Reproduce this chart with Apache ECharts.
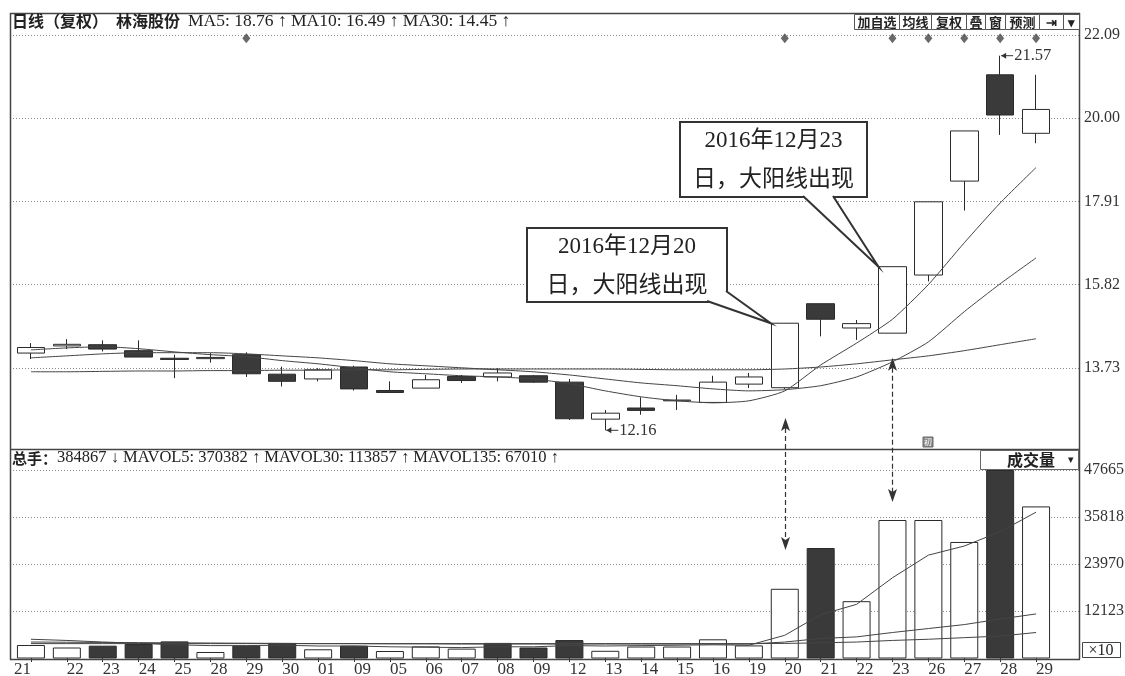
<!DOCTYPE html>
<html><head><meta charset="utf-8">
<script src="https://cdn.jsdelivr.net/npm/echarts@6/dist/echarts.min.js"></script>
<style>html,body{margin:0;padding:0;background:#fff}#c{width:1125px;height:676px}</style>
</head><body><div id="c"></div>
<script>
// ---------- data ----------
const dates = ['21','22','23','24','25','28','29','30','01','09','05','06','07','08','09','12','13','14','15','16','19','20','21','22','23','26','27','28','29'];
const opens  = [14.10,14.28,14.31,14.16,13.97,13.96,14.06,13.57,13.45,13.75,13.16,13.22,13.51,13.50,13.53,13.37,12.44,12.72,12.90,12.86,13.32,13.23,15.34,14.73,14.60,16.06,18.42,21.09,19.62];
const closes = [14.24,14.32,14.20,14.00,13.94,13.99,13.58,13.39,13.68,13.20,13.11,13.43,13.41,13.60,13.37,12.45,12.59,12.66,12.92,13.37,13.50,14.85,14.95,14.84,16.27,17.90,19.68,20.08,20.22];
const lows   = [13.95,14.20,14.14,14.00,13.47,13.86,13.50,13.26,13.39,13.16,13.11,13.22,13.35,13.39,13.35,12.42,12.16,12.55,12.67,12.86,13.22,13.20,14.52,14.43,14.60,15.90,17.68,19.58,19.37];
const highs  = [14.35,14.45,14.42,14.42,14.06,14.10,14.12,13.76,13.72,13.78,13.39,13.55,13.55,13.72,13.55,13.45,12.67,12.99,13.05,13.53,13.60,14.85,15.34,14.93,16.27,17.90,19.68,21.57,21.09];
const ma5  = [14.18,14.23,14.26,14.21,14.13,14.06,14.01,13.91,13.83,13.73,13.63,13.58,13.53,13.50,13.45,13.33,13.15,13.00,12.90,12.85,12.90,13.15,13.80,14.35,14.95,15.82,16.87,17.87,18.76];
const ma10 = [13.98,14.03,14.08,14.11,14.11,14.11,14.08,14.03,13.98,13.91,13.83,13.78,13.73,13.68,13.63,13.55,13.45,13.35,13.28,13.20,13.15,13.18,13.28,13.50,13.88,14.38,15.14,15.84,16.49];
const ma30 = [13.63,13.63,13.64,13.65,13.65,13.66,13.66,13.67,13.67,13.68,13.68,13.69,13.70,13.70,13.70,13.70,13.70,13.69,13.68,13.68,13.68,13.70,13.75,13.83,13.93,14.03,14.16,14.31,14.46];
const volumes = [3550,2920,3380,3800,4460,1790,3380,4080,2470,3380,2040,3200,2640,4080,2920,4800,2090,3170,3170,4990,3450,17720,28000,14600,35060,35060,29520,47665,38487];
const volUp   = [1,1,0,0,0,1,0,0,1,0,1,1,1,0,0,0,1,1,1,1,1,1,0,1,1,1,1,0,1];
const mavol5   = [5000,4700,4300,4000,3600,3400,3400,3500,3300,3300,3100,3000,2900,3100,3100,3400,3300,3400,3500,3600,3500,6000,11200,13800,20500,26200,28500,32100,37038];
const mavol30  = [4300,4250,4200,4150,4100,4050,4000,3950,3900,3900,3850,3850,3800,3800,3800,3800,3800,3800,3800,3800,3800,4300,5200,5600,6700,7700,8700,10100,11386];
const mavol135 = [3900,3900,3900,3900,3900,3900,3900,3900,3900,3900,3900,3900,3900,3900,3900,3900,3900,3900,3900,3900,3900,3950,4100,4300,4700,5000,5400,5800,6701];
const markerIdx = [6,21,24,25,26,27,28];
const priceTicks = ['13.73','15.82','17.91','20.00','22.09'];
const volTicks = ['12123','23970','35818','47665'];

// ---------- axis ranges from tick labels ----------
const pInt = +priceTicks[1] - +priceTicks[0];
const pMax = +priceTicks[priceTicks.length-1];
const pMin = +priceTicks[0] - pInt;
const vInt = (+volTicks[volTicks.length-1] - +volTicks[0]) / (volTicks.length-1);
const vMax = +volTicks[volTicks.length-1];
const vMin = +volTicks[0] - vInt;

const SERIF = "'Liberation Serif','Noto Sans CJK SC',serif";
const CJK = "'Noto Sans CJK SC','Liberation Serif',sans-serif";
const INK = '#2a2a2a';
const DARK = '#3a3a3a';

const nearest = (v, arr) => arr.reduce((a,b)=>Math.abs(+b - v) < Math.abs(+a - v) ? b : a);

const splitDot = {show:true, showMinLine:false, lineStyle:{type:[1,2], color:'#8a8a8a', width:1}};
const yLabel = (arr) => ({margin:5, fontFamily:SERIF, fontSize:16, color:'#333', showMinLabel:false,
  formatter: v => nearest(v, arr)});

const option = {
  animation:false,
  backgroundColor:'#fff',
  grid:[
    {left:13, top:35, width:1066, height:416, outerBoundsMode:'none'},
    {left:13, top:35, width:1041, height:416, outerBoundsMode:'none'},
    {left:13, top:470, width:1066, height:188, outerBoundsMode:'none'},
    {left:13, top:470, width:1041, height:188, outerBoundsMode:'none'}
  ],
  xAxis:[
    {gridIndex:0, type:'value', min:0, max:1, show:false},
    {gridIndex:1, type:'category', data:dates, boundaryGap:true, show:false},
    {gridIndex:2, type:'value', min:0, max:1, show:false},
    {gridIndex:3, type:'category', data:dates, boundaryGap:true,
      axisLine:{show:false},
      axisTick:{show:true, alignWithLabel:true, length:4, lineStyle:{color:'#333'}},
      axisLabel:{interval:0, align:'left', alignMinLabel:'right', margin:3, fontFamily:SERIF, fontSize:17, color:'#333'}}
  ],
  yAxis:[
    {gridIndex:0, type:'value', position:'right', min:pMin, max:pMax, interval:pInt,
      axisLine:{show:false}, axisTick:{show:false}, axisLabel:yLabel(priceTicks), splitLine:splitDot},
    {gridIndex:1, type:'value', min:pMin, max:pMax, show:false},
    {gridIndex:2, type:'value', position:'right', min:vMin, max:vMax, interval:vInt,
      axisLine:{show:false}, axisTick:{show:false}, axisLabel:yLabel(volTicks), splitLine:splitDot},
    {gridIndex:3, type:'value', min:vMin, max:vMax, show:false}
  ],
  series:[
    {type:'candlestick', xAxisIndex:1, yAxisIndex:1, barWidth:28,
      data: dates.map((d,i)=>[opens[i], closes[i], lows[i], highs[i]]),
      itemStyle:{color:'#fff', color0:DARK, borderColor:INK, borderColor0:INK, borderWidth:1}},
    {type:'line', xAxisIndex:1, yAxisIndex:1, data:ma5, showSymbol:false, smooth:0.2, z:5, lineStyle:{color:'#444', width:1}},
    {type:'line', xAxisIndex:1, yAxisIndex:1, data:ma10, showSymbol:false, smooth:0.2, z:5, lineStyle:{color:'#444', width:1}},
    {type:'line', xAxisIndex:1, yAxisIndex:1, data:ma30, showSymbol:false, smooth:0.2, z:5, lineStyle:{color:'#444', width:1}},
    {type:'scatter', xAxisIndex:1, yAxisIndex:1, symbol:'diamond', symbolSize:[8,10],
      data: markerIdx.map(i=>[i, 22.01]), itemStyle:{color:'#444'}},
    {type:'bar', xAxisIndex:3, yAxisIndex:3, barWidth:28,
      data: volumes.map((v,i)=>({value:v, itemStyle: volUp[i] ? {color:'#fff', borderColor:INK, borderWidth:1} : {color:DARK, borderColor:INK, borderWidth:1}}))},
    {type:'line', xAxisIndex:3, yAxisIndex:3, data:mavol5, showSymbol:false, z:5, lineStyle:{color:'#444', width:1}},
    {type:'line', xAxisIndex:3, yAxisIndex:3, data:mavol30, showSymbol:false, z:5, lineStyle:{color:'#444', width:1}},
    {type:'line', xAxisIndex:3, yAxisIndex:3, data:mavol135, showSymbol:false, z:5, lineStyle:{color:'#444', width:1}}
  ]
};

const chart = echarts.init(document.getElementById('c'), null, {renderer:'canvas'});
chart.setOption(option);

const P = (i, p) => chart.convertToPixel({gridIndex:1}, [i, p]);
const V = (i, v) => chart.convertToPixel({gridIndex:3}, [i, v]);

const g = [];
const Z = 100;
function ln(x1,y1,x2,y2,st){ g.push({type:'line', z:Z, silent:true, shape:{x1,y1,x2,y2}, style:Object.assign({stroke:'#444', lineWidth:1.5}, st||{})}); }
function txt(x,y,text,st){ g.push({type:'text', z:Z+2, silent:true, style:Object.assign({x, y, text, fill:'#222', verticalAlign:'middle', align:'left', fontFamily:SERIF, fontSize:16}, st||{})}); }
function rect(x,y,w,h,st){ g.push({type:'rect', z:Z+1, silent:true, shape:{x,y,width:w,height:h}, style:Object.assign({fill:'#fff', stroke:'#444', lineWidth:1}, st||{})}); }

// frame
ln(10.5,13,10.5,659.5);
ln(10,13.5,1080,13.5);
ln(1079.5,13,1079.5,659.5);
ln(10,449.5,1080,449.5);
ln(10,659.5,1080,659.5);

// header
g.push({type:'text', z:Z+2, silent:true, style:{x:12, y:21, verticalAlign:'middle',
  text:'{a|日线（复权）}{b|林海股份}{c|MA5: 18.76 ↑ MA10: 16.49 ↑ MA30: 14.45 ↑}',
  rich:{
    a:{fontFamily:CJK, fontSize:16, fill:'#222', fontWeight:'bold', padding:[0,8,0,0]},
    b:{fontFamily:CJK, fontSize:16, fill:'#222', fontWeight:'bold', padding:[0,8,0,0]},
    c:{fontFamily:SERIF, fontSize:17.5, fill:'#222'}
  }}});

// top buttons
const btns = [['加自选',854,45],['均线',899,32],['复权',931,35],['叠',966,19],['窗',985,20],['预测',1005,34],['⇥',1039,24],['▾',1063,16]];
btns.forEach(([t,x,w])=>{
  rect(x+0.5,14.5,w,15,{stroke:'#555'});
  txt(x+w/2+0.5,22,t,{align:'center', fontFamily:CJK, fontSize:13, fill:'#222', fontWeight:'bold'});
});

// volume header
g.push({type:'text', z:Z+2, silent:true, style:{x:12, y:458, verticalAlign:'middle',
  text:'{a|总手：}{c|384867 ↓ MAVOL5: 370382 ↑ MAVOL30: 113857 ↑ MAVOL135: 67010 ↑}',
  rich:{
    a:{fontFamily:CJK, fontSize:15, fill:'#222', fontWeight:'bold'},
    c:{fontFamily:SERIF, fontSize:16.5, fill:'#222'}
  }}});

// 成交量 box
rect(980.5,450.5,98,19,{stroke:'#666'});
txt(1031,460,'成交量',{align:'center', fontFamily:CJK, fontSize:16, fontWeight:'bold'});
txt(1071,460,'▾',{align:'center', fontFamily:SERIF, fontSize:11});
// x10 box
rect(1082.5,642.5,38,15,{stroke:'#444'});
txt(1101,650.5,'×10',{align:'center', fontFamily:SERIF, fontSize:16});
// small icon
rect(923,437,10,10,{fill:'#8a8a8a', stroke:'#666'});
txt(928,442,'初',{align:'center', fontFamily:CJK, fontSize:8, fill:'#fff'});

// high / low labels
function pointLabel(i, price, label){
  const [x,y] = P(i, price);
  ln(x+1,y,x+13,y,{lineWidth:1, stroke:'#333'});
  g.push({type:'polygon', z:Z, silent:true, shape:{points:[[x+1,y],[x+6,y-3],[x+6,y+3]]}, style:{fill:'#333'}});
  txt(x+14,y,label,{fontSize:16.5, fill:'#333'});
}
pointLabel(27, highs[27], '21.57');
pointLabel(16, lows[16], '12.16');

// dashed double arrows
function dArrow(x, y1, y2){
  ln(x, y1+10, x, y2-10, {lineWidth:1.2, stroke:'#333', lineDash:[5,3]});
  g.push({type:'polygon', z:Z, silent:true, shape:{points:[[x,y1],[x-4.5,y1+13],[x,y1+10],[x+4.5,y1+13]]}, style:{fill:'#333'}});
  g.push({type:'polygon', z:Z, silent:true, shape:{points:[[x,y2],[x-4.5,y2-13],[x,y2-10],[x+4.5,y2-13]]}, style:{fill:'#333'}});
}
{
  const [x1, t1] = P(21, 12.47); const [, b1] = V(21, 27500);
  dArrow(Math.round(x1)+0.5, t1, b1);
  const [x2, t2] = P(24, 13.98); const [, b2] = V(24, 39600);
  dArrow(Math.round(x2)+0.5, t2, b2);
}

// callouts
function callout(bx,by,bw,bh,a1,a2,tip,l1,l2){
  rect(bx,by,bw,bh,{stroke:'#333', lineWidth:2});
  g.push({type:'polygon', z:Z+1, silent:true, shape:{points:[a1,tip,a2]}, style:{fill:'#fff', stroke:null}});
  g.push({type:'polyline', z:Z+1, silent:true, shape:{points:[a1,tip,a2]}, style:{stroke:'#333', lineWidth:2, fill:null}});
  txt(bx+bw/2, by+19, l1, {align:'center', fontSize:23, fill:'#222'});
  txt(bx+bw/2, by+55, l2, {align:'center', fontFamily:CJK, fontSize:23, fill:'#222'});
}
{
  const [tx1, ty1] = P(21, closes[21]);
  callout(527,228,200,74,[707,301],[726,291],[tx1-14, ty1],'2016年12月20','日，大阳线出现');
  const [tx2, ty2] = P(24, closes[24]);
  callout(680,122,187,75,[803,196],[833,196],[tx2-14, ty2],'2016年12月23','日，大阳线出现');
}

chart.setOption({graphic: g});
</script>
</body></html>
